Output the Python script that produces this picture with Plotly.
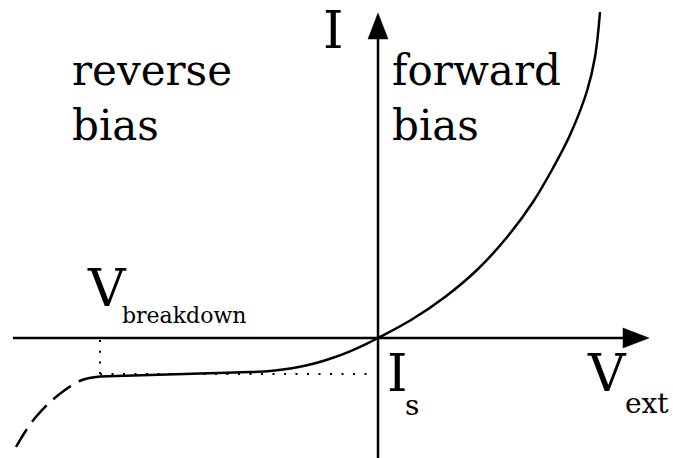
import plotly.graph_objects as go

# Diode current-voltage characteristic, schematic units (1 unit = 100 px)
forward_v = [0.00, 0.33, 0.67, 1.00, 1.30, 1.55, 1.75, 1.92, 2.09, 2.17, 2.22]
forward_i = [0.00, 0.18, 0.41, 0.69, 1.02, 1.36, 1.70, 2.03, 2.47, 2.81, 3.26]

reverse_v = [0.00, -0.11, -0.28, -0.45, -0.61, -0.78, -0.95, -1.11, -1.28, -1.78, -2.28, -2.78]
reverse_i = [0.00, -0.056, -0.133, -0.198, -0.248, -0.288, -0.316, -0.333, -0.341, -0.355, -0.370, -0.385]

breakdown_v = [-2.78, -2.96, -3.13, -3.30, -3.43, -3.53, -3.62]
breakdown_i = [-0.385, -0.42, -0.52, -0.66, -0.80, -0.94, -1.09]

v_breakdown = -2.78
i_saturation = -0.36

v_axis = [-3.65, 2.71]   # horizontal axis: start, arrow tip
i_axis = [-1.20, 3.25]   # vertical axis: start, arrow tip

SERIF = "DejaVu Serif"
INK = "black"

fig = go.Figure()

# reverse + forward branch as one continuous solid curve
solid_v = reverse_v[::-1] + forward_v[1:]
solid_i = reverse_i[::-1] + forward_i[1:]
fig.add_trace(go.Scatter(x=solid_v, y=solid_i, mode="lines",
                         line=dict(color=INK, width=2.5, shape="spline",
                                   smoothing=1.0, simplify=False)))

# breakdown region, dashed
fig.add_trace(go.Scatter(x=breakdown_v, y=breakdown_i, mode="lines",
                         line=dict(color=INK, width=2.5, dash="22px,9px",
                                   shape="spline", smoothing=1.0, simplify=False)))

# dotted guides to the breakdown voltage and saturation current
fig.add_trace(go.Scatter(x=[v_breakdown, v_breakdown], y=[-0.02, i_saturation], mode="lines",
                         line=dict(color=INK, width=2, dash="2px,8.7px")))
fig.add_trace(go.Scatter(x=[v_breakdown, -0.06], y=[i_saturation, i_saturation], mode="lines",
                         line=dict(color=INK, width=2, dash="2px,9.5px")))

shapes = [
    # horizontal axis
    dict(type="line", x0=v_axis[0], x1=v_axis[1] - 0.2, y0=0, y1=0,
         line=dict(color=INK, width=2.5), layer="below"),
    # vertical axis
    dict(type="line", x0=0, x1=0, y0=i_axis[0], y1=i_axis[1] - 0.2,
         line=dict(color=INK, width=2.5), layer="below"),
    # arrow heads
    dict(type="path", xsizemode="pixel", ysizemode="pixel",
         xanchor=v_axis[1], yanchor=0, path="M0,0 L-26,10 L-26,-10 Z",
         fillcolor=INK, line=dict(color=INK, width=0.5)),
    dict(type="path", xsizemode="pixel", ysizemode="pixel",
         xanchor=0, yanchor=i_axis[1], path="M0,0 L-10,-26 L10,-26 Z",
         fillcolor=INK, line=dict(color=INK, width=0.5)),
]


def label(text, x, y_top, size, yshift=0):
    return dict(text=text, x=x, y=y_top, xref="x", yref="y", xanchor="left",
                yanchor="top", showarrow=False, align="left", borderpad=0,
                yshift=yshift, font=dict(family=SERIF, size=size, color=INK))


annotations = [
    label("I", -0.56, 3.37, 52, yshift=2),
    label("reverse<br>bias", -3.07, 2.93, 42),
    label("forward<br>bias", 0.13, 2.93, 42),
    label("V", -2.92, 0.81, 52),
    label("breakdown", -2.57, 0.36, 22),
    label("I", 0.08, -0.04, 52),
    label("s", 0.255, -0.50, 28),
    label("V", 2.08, -0.04, 52),
    label("ext", 2.46, -0.48, 28),
]

fig.update_layout(
    width=673, height=458,
    margin=dict(l=0, r=0, t=0, b=0),
    paper_bgcolor="white", plot_bgcolor="white",
    showlegend=False,
    xaxis=dict(range=[-3.78, 2.95], visible=False, fixedrange=True),
    yaxis=dict(range=[-1.20, 3.38], visible=False, fixedrange=True),
    shapes=shapes,
    annotations=annotations,
)

fig.write_html("out.html")
